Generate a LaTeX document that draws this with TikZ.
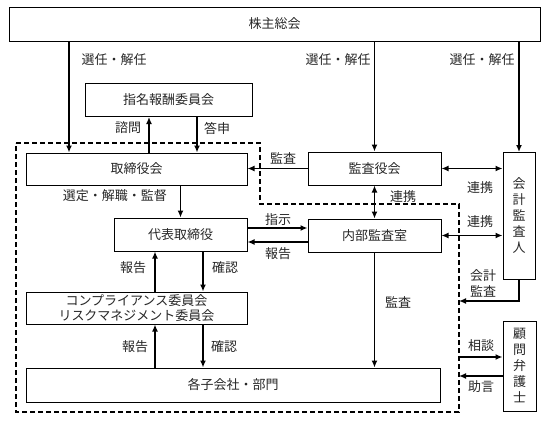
\documentclass[tikz,border=0pt]{standalone}
\usepackage{fontspec}
\setmainfont{Noto Sans CJK JP}
\usepackage{tikz}
\usetikzlibrary{arrows.meta}
\tikzset{
	box/.style={draw, line width=1pt, inner sep=0pt, align=center, text=black!85, font=\fontsize{13pt}{16pt}\selectfont},
	lbl/.style={inner sep=0pt, align=center, text=black!85, font=\fontsize{13pt}{16pt}\selectfont},
	arr/.style={line width=1.6pt, -{Latex[length=7pt,width=6pt]}},
	darr/.style={line width=1.6pt, {Latex[length=7pt,width=6pt]}-{Latex[length=7pt,width=6pt]}},
	frame/.style={line width=1.2pt, dash pattern=on 5pt off 3pt}
}

\begin{document}
\begin{tikzpicture}[x=1pt,y=-1pt]
	\useasboundingbox (0,0) rectangle (547,421);
	% dashed frame of the company
	\coordinate (f1) at (16,143);
	\coordinate (f2) at (260,143);
	\coordinate (f3) at (260,204);
	\coordinate (f4) at (459,204);
	\coordinate (f5) at (459,412);
	\coordinate (f6) at (16,412);
	\draw[frame] (f1) -- (f2) -- (f3) -- (f4) -- (f5) -- (f6) -- cycle;
	\coordinate (kaikeiin) at (459,301);
	\coordinate (soudanin) at (459,357);
	\coordinate (jogenin) at (459,376);

	% boxes
	\node[box, minimum width=531, minimum height=34] (soukai) at (274.5,24) {株主総会};
	\node[box, minimum width=167, minimum height=33] (shimei) at (168.5,100) {指名報酬委員会};
	\node[box, minimum width=221, minimum height=32] (torikai) at (136.5,169) {取締役会};
	\node[box, minimum width=133, minimum height=33] (kansayaku) at (374.5,168.5) {監査役会};
	\node[box, minimum width=32, minimum height=127] (kaikei) at (519,216) {会\\計\\監\\査\\人};
	\node[box, minimum width=133, minimum height=33] (daihyo) at (180.5,234.5) {代表取締役};
	\node[box, minimum width=133, minimum height=33] (naibu) at (374.5,235.5) {内部監査室};
	\node[box, minimum width=221, minimum height=32, font=\fontsize{13pt}{14.5pt}\selectfont] (comp) at (136.5,308) {コンプライアンス委員会\\リスクマネジメント委員会};
	\node[box, minimum width=414, minimum height=34] (kogaisha) at (233,385) {各子会社・部門};
	\node[box, minimum width=33, minimum height=90] (komon) at (519.5,366) {顧\\問\\弁\\護\\士};

	% connectors
	\draw[arr] (soukai.south -| 69,0) -- (torikai.north -| 69,0);
	\draw[arr] (soukai.south -| kansayaku) -- (kansayaku);
	\draw[arr] (soukai.south -| kaikei) -- (kaikei);
	\draw[arr] (torikai.north -| 149,0) -- (shimei.south -| 149,0);
	\draw[arr] (shimei.south -| 197,0) -- (torikai.north -| 197,0);
	\draw[arr] (kansayaku.west) -- (kansayaku.west -| torikai.east);
	\draw[darr] (kansayaku.east) -- (kansayaku.east -| kaikei.west);
	\draw[darr] (kansayaku) -- (naibu);
	\draw[arr] (torikai.south -| daihyo) -- (daihyo);
	\draw[arr] ([yshift=6.5pt]daihyo.east) -- ([yshift=6.5pt]daihyo.east -| naibu.west);
	\draw[arr] ([yshift=-6.5pt]naibu.west) -- ([yshift=-6.5pt]naibu.west -| daihyo.east);
	\draw[darr] (naibu.east) -- (naibu.east -| kaikei.west);
	\draw[arr] (naibu.south) -- (naibu.south |- kogaisha.north);
	\draw[arr] (comp.north -| 155,0) -- (daihyo.south -| 155,0);
	\draw[arr] (daihyo.south -| 203,0) -- (comp.north -| 203,0);
	\draw[arr] (kogaisha.north -| 155,0) -- (comp.south -| 155,0);
	\draw[arr] (comp.south -| 203,0) -- (kogaisha.north -| 203,0);
	\draw[arr] (kaikei.south) |- (kaikeiin);
	\draw[arr] (soudanin) -- (soudanin -| komon.west);
	\draw[arr] (jogenin -| komon.west) -- (jogenin);

	% labels
	\node[lbl] (l-senin1) at (114,60) {選任・解任};
	\node[lbl] (l-senin2) at (338,60) {選任・解任};
	\node[lbl] (l-senin3) at (482,60) {選任・解任};
	\node[lbl] (l-shimon) at (128,128) {諮問};
	\node[lbl] (l-toushin) at (217,128) {答申};
	\node[lbl] (l-kansa1) at (283,158) {監査};
	\node[lbl] (l-sentei) at (115,196) {選定・解職・監督};
	\node[lbl] (l-renkei1) at (403,197) {連携};
	\node[lbl] (l-renkei2) at (480,188) {連携};
	\node[lbl] (l-renkei3) at (480,222) {連携};
	\node[lbl] (l-shiji) at (278,220) {指示};
	\node[lbl] (l-houkoku1) at (278,254) {報告};
	\node[lbl] (l-houkoku2) at (133,268) {報告};
	\node[lbl] (l-kakunin1) at (225,268) {確認};
	\node[lbl] (l-kaikei) at (483,283) {会計\\監査};
	\node[lbl] (l-kansa2) at (398,302) {監査};
	\node[lbl] (l-houkoku3) at (135,347) {報告};
	\node[lbl] (l-kakunin2) at (224,347) {確認};
	\node[lbl] (l-soudan) at (481,346) {相談};
	\node[lbl] (l-jogen) at (481,387) {助言};
\end{tikzpicture}
\end{document}
